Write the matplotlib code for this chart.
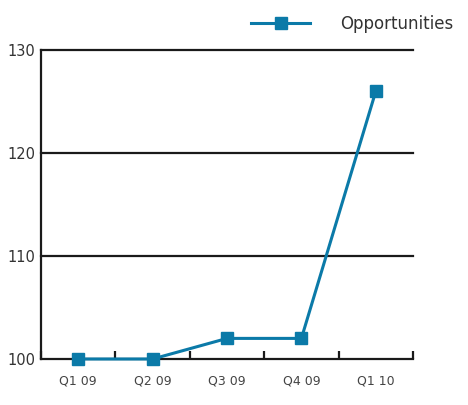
import matplotlib.pyplot as plt
import numpy as np

quarters = ['Q1 09', 'Q2 09', 'Q3 09', 'Q4 09', 'Q1 10']
opportunities = [100, 100, 102, 102, 126]

blue = '#0b7aa8'

fig = plt.figure(figsize=(4.68, 4.05), dpi=100)
ax = fig.add_axes([41 / 468, 1 - 359 / 405, 372 / 468, 309 / 405])

x = np.arange(len(quarters))
line, = ax.plot(x, opportunities, color=blue, lw=2.2, marker='s', ms=9,
                markerfacecolor=blue, markeredgecolor=blue, label='Opportunities',
                zorder=5, clip_on=False)

ax.set_xlim(-0.5, len(quarters) - 0.5)
ax.set_ylim(100, 130)
ax.set_yticks([100, 110, 120, 130])
for v in [110, 120, 130]:
    ax.axhline(v, color='#1a1a1a', lw=1.6, zorder=1, clip_on=False)

ax.set_xticks(x)
ax.set_xticklabels(quarters, fontsize=9, color='#444444')
ax.set_xticks(np.arange(-0.5, len(quarters)), minor=True)
ax.tick_params(axis='x', which='major', length=0, pad=11)
ax.tick_params(axis='x', which='minor', direction='in', length=6, width=1.6, color='#1a1a1a')
ax.tick_params(axis='y', length=0, labelsize=10.5, labelcolor='#333333', pad=4)

for s in ['top', 'right']:
    ax.spines[s].set_visible(False)
for s in ['left', 'bottom']:
    ax.spines[s].set_linewidth(1.6)
    ax.spines[s].set_color('#1a1a1a')

fig.legend(handles=[line], loc='upper right', bbox_to_anchor=(1.0, 1.0),
           frameon=False, fontsize=12, handlelength=3.5, handletextpad=1.8,
           labelcolor='#333333')

fig.savefig('out.png', dpi=100)
